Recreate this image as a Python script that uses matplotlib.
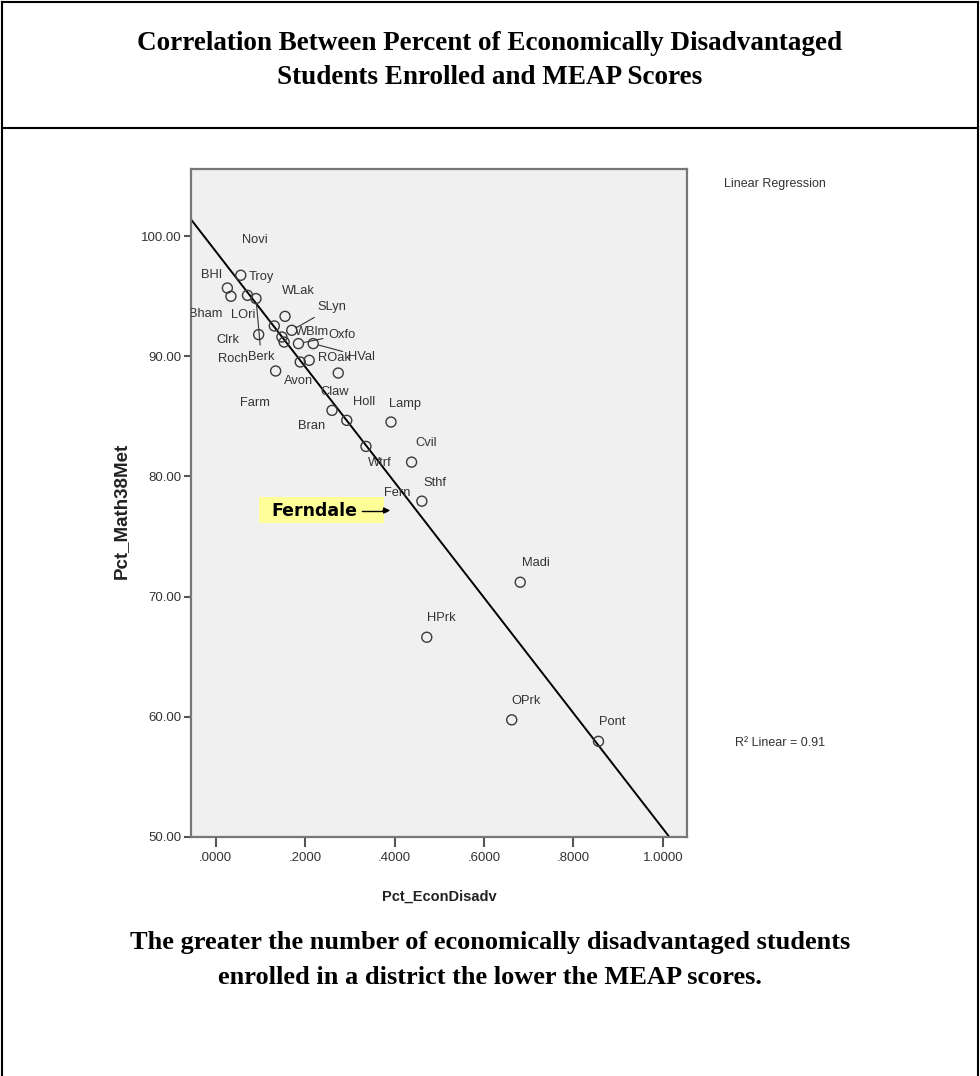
import numpy as np
import matplotlib
matplotlib.use("Agg")
import matplotlib.pyplot as plt
from matplotlib.patches import Rectangle, FancyArrowPatch
from matplotlib.lines import Line2D

# ---------------- data ----------------
districts = ["BHI", "Bham", "LOri", "Troy", "Berk", "Clrk", "WLak", "Novi", "WBlm",
             "Roch", "Oxfo", "HVal", "Farm", "ROak", "Avon", "Claw", "Bran", "Holl",
             "Lamp", "Wtrf", "Cvil", "Sthf", "Madi", "HPrk", "OPrk", "Pont", "SLyn"]
pct_econ_disadv = [0.056, 0.026, 0.034, 0.071, 0.090, 0.096, 0.155, 0.131, 0.148,
                   0.153, 0.185, 0.218, 0.189, 0.209, 0.134, 0.274, 0.260, 0.293,
                   0.392, 0.336, 0.438, 0.461, 0.681, 0.472, 0.662, 0.856, 0.170]
pct_math38_met = [96.75, 95.69, 95.00, 95.08, 94.81, 91.81, 93.33, 92.53, 91.61,
                  91.19, 91.06, 91.06, 89.53, 89.67, 88.78, 88.61, 85.50, 84.67,
                  84.53, 82.50, 81.19, 77.94, 71.19, 66.61, 59.73, 57.94, 92.17]
x_ticks = [0.0, 0.2, 0.4, 0.6, 0.8, 1.0]
x_tick_labels = [".0000", ".2000", ".4000", ".6000", ".8000", "1.0000"]
y_ticks = [50, 60, 70, 80, 90, 100]
y_tick_labels = ["50.00", "60.00", "70.00", "80.00", "90.00", "100.00"]
r_squared_text = "R\u00b2 Linear = 0.91"
highlight_label = "Ferndale"
highlight_point_label = "Fern"

# ---------------- label layout (pixel offsets from each point) ----------------
label_dx = [-19, -5, 0, 1, -8, -19, -3, -32, 13,
            -36, 30, 35, -60, 9, 8, -18, -34, 6,
            -2, 2, 4, 2, 2, 0, 0, 1, 26]
label_dy = [0, -26, -19, 18, -58, -5, 25, 86, 5,
            -17, 9, -13, -41, 2, -10, -19, -16, 18,
            18, -17, 19, 18, 19, 19, 19, 19, 23]
label_ha = ["right", "right", "left", "left", "left", "right", "left", "left", "left",
            "right", "left", "left", "left", "left", "left", "left", "left", "left",
            "left", "left", "left", "left", "left", "left", "left", "left", "left"]
has_leader = ["Berk", "Oxfo", "HVal", "SLyn"]

W, H = 980, 1076
fig = plt.figure(figsize=(W / 100, H / 100), dpi=100)
fig.patch.set_facecolor("white")


def fx(px):
    return px / W


def fy(py):
    return 1 - py / H


# outer frame and title separator
for (x0, y0, x1, y1) in [(2, 2, 978, 2), (2, 2, 2, 1076), (978, 2, 978, 1076),
                         (2, 128, 978, 128)]:
    fig.add_artist(Line2D([fx(x0), fx(x1)], [fy(y0), fy(y1)], color="black", lw=1.5))

serif = ["Liberation Serif", "DejaVu Serif"]
sans = ["Liberation Sans", "DejaVu Sans"]

fig.text(0.5, fy(44), "Correlation Between Percent of Economically Disadvantaged",
         ha="center", va="center", fontsize=19.5, fontweight="bold", family=serif)
fig.text(0.5, fy(78), "Students Enrolled and MEAP Scores",
         ha="center", va="center", fontsize=19.5, fontweight="bold", family=serif)
fig.text(0.5, fy(943), "The greater the number of economically disadvantaged students",
         ha="center", va="center", fontsize=19, fontweight="bold", family=serif)
fig.text(0.5, fy(978), "enrolled in a district the lower the MEAP scores.",
         ha="center", va="center", fontsize=19, fontweight="bold", family=serif)

# axes
left, right, top, bottom = 190.7, 687, 169, 836.7
ax = fig.add_axes([fx(left), fy(bottom), (right - left) / W, (bottom - top) / H])
ax.set_facecolor("#f0f0f0")
xlim = (-0.056, 1.054)
ylim = (50, 105.6)

ax.scatter(pct_econ_disadv, pct_math38_met, s=52, facecolors="none",
           edgecolors="#3a3a3a", linewidths=1.0, zorder=3)

slope, intercept = np.polyfit(pct_econ_disadv, pct_math38_met, 1)
xs = np.array(xlim)
ax.plot(xs, intercept + slope * xs, color="black", lw=1.4, zorder=2)
ax.set_xlim(*xlim)
ax.set_ylim(*ylim)

for name, x, y, dx, dy, ha in zip(districts, pct_econ_disadv, pct_math38_met,
                                   label_dx, label_dy, label_ha):
    kw = {}
    if name in has_leader:
        kw["arrowprops"] = dict(arrowstyle="-", color="#333333", lw=0.8,
                                shrinkA=2, shrinkB=4)
    ax.annotate(name, xy=(x, y), xytext=(dx, dy), textcoords="offset pixels",
                ha=ha, va="center", fontsize=9.3, color="#333333", family=sans,
                annotation_clip=False, clip_on=True, zorder=4, **kw)

ax.set_xticks(x_ticks)
ax.set_xticklabels(x_tick_labels)
ax.set_yticks(y_ticks)
ax.set_yticklabels(y_tick_labels)
ax.tick_params(axis="x", direction="out", length=7, width=1.5, color="#555555",
               labelsize=9.5, labelcolor="#333333", pad=4)
ax.tick_params(axis="y", direction="out", length=5.3, width=1.5, color="#555555",
               labelsize=9.5, labelcolor="#333333", pad=1.5)
for lab in ax.get_xticklabels() + ax.get_yticklabels():
    lab.set_family(sans)
for sp in ax.spines.values():
    sp.set_color("#777777")
    sp.set_linewidth(1.6)

ax.set_xlabel("Pct_EconDisadv", fontsize=10.5, fontweight="bold", family=sans,
              color="#222222")
ax.xaxis.set_label_coords(0.5, -(890 - bottom) / (bottom - top))
ax.set_ylabel("Pct_Math38Met", fontsize=13.5, fontweight="bold", family=sans,
              color="#222222")
ax.yaxis.set_label_coords((130 - left) / (right - left), (bottom - 511) / (bottom - top))

# legend-like texts
fig.text(fx(724), fy(184), "Linear Regression", ha="left", va="center",
         fontsize=9, color="#333333", family=sans)
fig.text(fx(735), fy(743), r_squared_text, ha="left", va="center",
         fontsize=9, color="#333333", family=sans)

# Ferndale callout
fig.add_artist(Rectangle((fx(259), fy(522.7)), (384 - 259) / W, (522.7 - 497.3) / H,
                         transform=fig.transFigure, facecolor="#ffff99",
                         edgecolor="none", zorder=5))
fig.text(fx(271), fy(510.5), highlight_label, ha="left", va="center",
         fontsize=12.5, fontweight="bold", color="black", family=["DejaVu Sans"], zorder=6)
fig.add_artist(Line2D([fx(362), fx(386)], [fy(510.5), fy(510.5)], color="black",
                      lw=1.0, zorder=6))
fig.add_artist(FancyArrowPatch(
    (fx(380), fy(510.5)), (fx(393), fy(510.5)), transform=fig.transFigure,
    arrowstyle="-|>", mutation_scale=9, color="black", lw=1.0, zorder=6))
fig.text(fx(384), fy(493.3), highlight_point_label, ha="left", va="center",
         fontsize=9.3, color="#333333", family=sans, zorder=4)

fig.savefig("out.png", dpi=100)
